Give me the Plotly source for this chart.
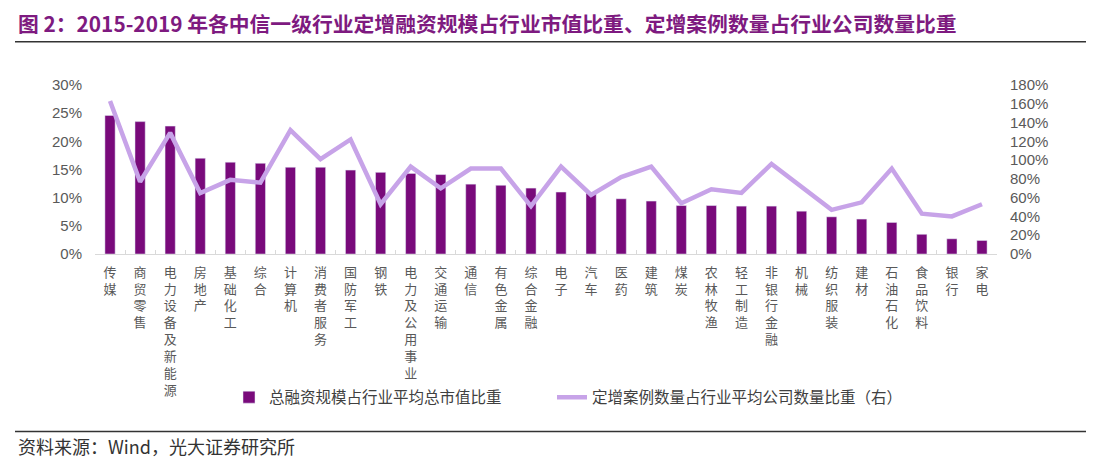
import plotly.graph_objects as go

# 2015-2019 中信一级行业
industries = ["传媒", "商贸零售", "电力设备及新能源", "房地产", "基础化工", "综合", "计算机",
              "消费者服务", "国防军工", "钢铁", "电力及公用事业", "交通运输", "通信", "有色金属",
              "综合金融", "电子", "汽车", "医药", "建筑", "煤炭", "农林牧渔", "轻工制造",
              "非银行金融", "机械", "纺织服装", "建材", "石油石化", "食品饮料", "银行", "家电"]

# 总融资规模占行业平均总市值比重 (%)
funding_share = [24.6, 23.5, 22.7, 17.0, 16.3, 16.1, 15.4, 15.4, 14.9, 14.5, 14.3, 14.1,
                 12.4, 12.2, 11.7, 11.0, 10.8, 9.8, 9.4, 8.6, 8.6, 8.5, 8.5, 7.6, 6.6,
                 6.2, 5.6, 3.5, 2.7, 2.4]

# 定增案例数量占行业平均公司数量比重 (%), 右轴
case_share = [163, 77, 129, 65, 79, 76, 132, 101, 122, 53, 93, 70, 91, 91, 51, 93, 63,
              82, 93, 54, 69, 65, 96, 72, 47, 55, 91, 43, 40, 53]

left_ticks = [0, 5, 10, 15, 20, 25, 30]
right_ticks = [0, 20, 40, 60, 80, 100, 120, 140, 160, 180]

# stack the characters vertically like the original
cat_labels = ["<br>".join(list(s)) for s in industries]

cjk = "Noto Sans CJK SC"
gray = "#595959"

# page body has an 8px margin, so the figure is 8px smaller and everything is laid out in
# figure pixels (= screen pixels - 8)
W, H = 1088, 456
pl, pr, pt, pb = 87, 989, 76.5, 246
pw, ph = pr - pl, pb - pt


def px(x):
    return (x - 8 - pl) / pw


def py(y):
    return (pb - (y - 8)) / ph


fig = go.Figure()
fig.add_trace(go.Bar(
    x=cat_labels, y=funding_share, name="总融资规模占行业平均总市值比重",
    marker_color="#790A7B", width=0.34, legend="legend",
))
fig.add_trace(go.Scatter(
    x=cat_labels, y=case_share, name="定增案例数量占行业平均公司数量比重（右）",
    mode="lines", line=dict(color="#C7A3E8", width=4.5), yaxis="y2", legend="legend2",
))

legend_font = dict(family=cjk, size=15.5, color="#404040")

fig.update_layout(
    width=W, height=H,
    margin=dict(l=pl, r=W - pr, t=pt, b=H - pb, autoexpand=False),
    paper_bgcolor="white", plot_bgcolor="white",
    showlegend=True,
    font=dict(family=cjk, color=gray),
    xaxis=dict(
        type="category", showgrid=False, showline=True, linecolor="#D9D9D9", linewidth=1,
        ticks="inside", ticklen=4, tickcolor="#D9D9D9", tickson="boundaries",
        tickfont=dict(family=cjk, size=13, color=gray), tickangle=0,
        ticklabelstandoff=6,
    ),
    yaxis=dict(
        range=[0, 30], tickvals=left_ticks, ticktext=[f"{v}%" for v in left_ticks],
        showgrid=False, zeroline=False, showline=False,
        tickfont=dict(family="Liberation Sans", size=15, color=gray),
        ticklabelstandoff=12,
    ),
    yaxis2=dict(
        range=[0, 180], tickvals=right_ticks, ticktext=[f"{v}%" for v in right_ticks],
        overlaying="y", side="right",
        showgrid=False, zeroline=False, showline=False,
        tickfont=dict(family="Liberation Sans", size=15, color=gray),
        ticklabelstandoff=12,
    ),
    legend=dict(
        orientation="h", x=px(229), xanchor="left", y=py(398), yanchor="middle",
        font=legend_font, bgcolor="rgba(0,0,0,0)",
    ),
    legend2=dict(
        orientation="h", x=px(552), xanchor="left", y=py(398), yanchor="middle",
        font=legend_font, bgcolor="rgba(0,0,0,0)",
    ),
    shapes=[
        dict(type="line", xref="paper", yref="paper", x0=px(15), x1=px(1086),
             y0=py(41), y1=py(41), line=dict(color="#333333", width=1.5)),
        dict(type="line", xref="paper", yref="paper", x0=px(15), x1=px(1086),
             y0=py(432), y1=py(432), line=dict(color="#333333", width=1.5)),
    ],
    annotations=[
        dict(text="图 2：2015-2019 年各中信一级行业定增融资规模占行业市值比重、定增案例数量占行业公司数量比重",
             xref="paper", yref="paper", x=px(16), y=py(22), xanchor="left", yanchor="middle",
             showarrow=False,
             font=dict(family=cjk, size=20.8, color="#7E1A80", weight="bold")),
        dict(text="资料来源：Wind，光大证券研究所", xref="paper", yref="paper",
             x=px(16), y=py(447), xanchor="left", yanchor="middle",
             showarrow=False, font=dict(family=cjk, size=18, color="#333333")),
    ],
)

fig.write_html("out.html")
